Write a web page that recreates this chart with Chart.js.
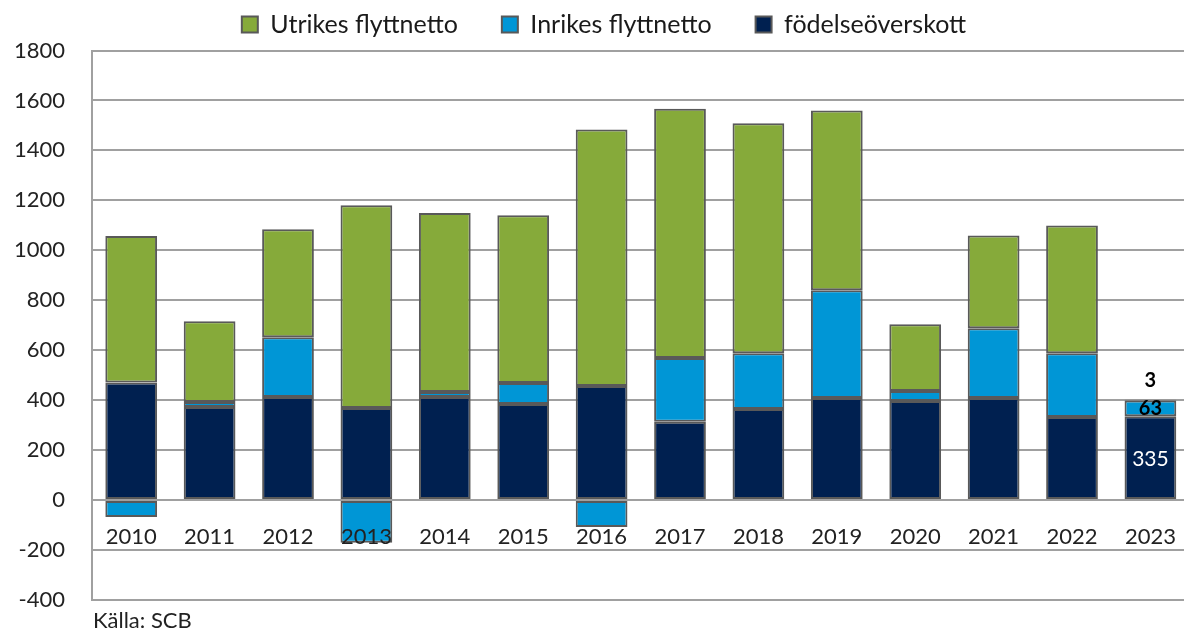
<!DOCTYPE html>
<html>
<head>
<meta charset="utf-8">
<script src="https://cdn.jsdelivr.net/npm/chart.js@4.4.1/dist/chart.umd.min.js"></script>
<style>
    html, body { margin: 0; padding: 0; background: #fff; overflow: hidden; }
    #wrap { position: relative; width: 1200px; height: 632px; overflow: hidden; }
    #kalla {
        position: absolute; left: 93px; top: 606px;
        font: 22px Lato, "Open Sans", sans-serif; color: #222;
    }
</style>
</head>
<body>
<div id="wrap">
    <canvas id="chart" width="1200" height="640"></canvas>
    <div id="kalla">Källa: SCB</div>
</div>
<script>
// 年份
const years = ['2010', '2011', '2012', '2013', '2014', '2015', '2016',
               '2017', '2018', '2019', '2020', '2021', '2022', '2023'];

// 各项数值
const fodelseoverskott = [470, 372, 412, 368, 412, 384, 456, 313, 364, 408, 396, 408, 332, 335];
const inrikesFlyttnetto = [-68, 20, 240, -172, 20, 84, -108, 255, 223, 432, 40, 280, 255, 63];
const utrikesFlyttnetto = [587, 324, 432, 812, 717, 672, 1028, 999, 922, 720, 268, 371, 512, 3];

// y 轴刻度
const yTicks = [-400, -200, 0, 200, 400, 600, 800, 1000, 1200, 1400, 1600, 1800];

const FONT = 'Lato, "Open Sans", sans-serif';
const EDGE = '#595959';

/**
 * 只给最后一年标数值
 */
const lastYearLabels = {
    id: 'lastYearLabels',
    afterDatasetsDraw(chart) {
        const ctx = chart.ctx;
        const idx = years.length - 1;
        ctx.save();
        ctx.textAlign = 'center';
        ctx.textBaseline = 'middle';
        chart.data.datasets.forEach((ds, di) => {
            const el = chart.getDatasetMeta(di).data[idx];
            if (!el) return;
            const v = ds.data[idx];
            if (di === 0) {
                ctx.fillStyle = '#ffffff';
                ctx.font = '21px ' + FONT;
                ctx.fillText(String(v), el.x, (el.y + el.base) / 2 + 2);
            } else if (di === 1) {
                ctx.fillStyle = '#000000';
                ctx.font = 'bold 20px ' + FONT;
                ctx.fillText(String(v), el.x, (el.y + el.base) / 2);
            } else {
                ctx.fillStyle = '#000000';
                ctx.font = 'bold 20px ' + FONT;
                ctx.fillText(String(v), el.x, el.y - 19);
            }
        });
        ctx.restore();
    }
};

const barStyle = {
    borderColor: EDGE,
    borderWidth: 2,
    borderSkipped: false,
    barPercentage: 0.66,
    categoryPercentage: 1.0
};

new Chart(document.getElementById('chart'), {
    type: 'bar',
    data: {
        labels: years,
        datasets: [
            Object.assign({ label: 'födelseöverskott', data: fodelseoverskott, backgroundColor: '#002050' }, barStyle),
            Object.assign({ label: 'Inrikes flyttnetto', data: inrikesFlyttnetto, backgroundColor: '#0096d6' }, barStyle),
            Object.assign({ label: 'Utrikes flyttnetto', data: utrikesFlyttnetto, backgroundColor: '#86aa3a' }, barStyle)
        ]
    },
    options: {
        responsive: false,
        animation: false,
        layout: { padding: { top: -32, right: 2, bottom: 0, left: 10 } },
        plugins: {
            legend: {
                reverse: true,
                labels: {
                    boxWidth: 16,
                    boxHeight: 16,
                    padding: 44,
                    color: '#1a1a1a',
                    font: { family: FONT, size: 25 }
                }
            },
            // 图例和绘图区之间留一点空
            subtitle: {
                display: true,
                text: '',
                weight: 500,
                font: { size: 1 },
                padding: { top: 0, bottom: 2.3 }
            },
            tooltip: { enabled: false }
        },
        scales: {
            x: {
                stacked: true,
                position: { y: 0 },
                grid: { display: false, drawTicks: false },
                border: { display: false },
                ticks: {
                    z: 1,
                    padding: 24,
                    color: '#222',
                    font: { family: FONT, size: 22 },
                    maxRotation: 0
                }
            },
            y: {
                stacked: true,
                min: -400,
                max: 1800,
                afterFit(scale) { scale.width = 82; },
                afterBuildTicks(scale) { scale.ticks = yTicks.map(v => ({ value: v })); },
                grid: { color: '#a0a0a0', lineWidth: 2, drawTicks: false },
                border: { display: true, color: '#a0a0a0', width: 2 },
                ticks: {
                    padding: 27,
                    color: '#222',
                    font: { family: FONT, size: 22 },
                    callback: v => String(v)
                }
            }
        }
    },
    plugins: [lastYearLabels]
});
</script>
</body>
</html>
